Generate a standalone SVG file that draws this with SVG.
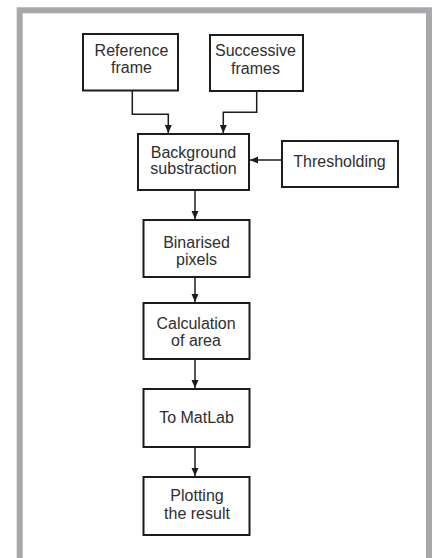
<svg xmlns="http://www.w3.org/2000/svg" width="433" height="558" viewBox="0 0 433 558">
  <defs>
    <style>
      .box { fill: #ffffff; stroke: #1c1c1c; stroke-width: 2; }
      .lbl { font-family: "Liberation Sans", Arial, sans-serif; font-size: 16px; fill: #2e2e2e; text-anchor: middle; }
      .con { fill: none; stroke: #1c1c1c; stroke-width: 1.5; }
    </style>
    <marker id="arr" markerUnits="userSpaceOnUse" markerWidth="8" markerHeight="8" viewBox="0 0 8 8" refX="8" refY="4" orient="auto">
      <path d="M0,0.5 L8,4 L0,7.5 Z" fill="#1c1c1c"/>
    </marker>
  </defs>
  <rect x="0" y="0" width="433" height="558" fill="#ffffff"/>
  <rect x="19.7" y="10.3" width="409.3" height="560" fill="none" stroke="#a7a8ab" stroke-width="6"/>

  <g id="connectors">
    <path class="con" d="M132.3,91 V114.3 H168.3 V133" marker-end="url(#arr)"/>
    <path class="con" d="M256.7,91 V112.3 H223.3 V133" marker-end="url(#arr)"/>
    <path class="con" d="M282,160 H250" marker-end="url(#arr)"/>
    <path class="con" d="M195,190 V219" marker-end="url(#arr)"/>
    <path class="con" d="M195,277 V302" marker-end="url(#arr)"/>
    <path class="con" d="M195,359 V388" marker-end="url(#arr)"/>
    <path class="con" d="M195,447 V476" marker-end="url(#arr)"/>
  </g>

  <g id="reference-frame">
    <rect class="box" x="83" y="34" width="95" height="56.5"/>
    <text class="lbl" x="131.5" y="56">Reference</text>
    <text class="lbl" x="131.5" y="73">frame</text>
  </g>
  <g id="successive-frames">
    <rect class="box" x="210" y="35" width="93" height="56"/>
    <text class="lbl" x="255.5" y="56">Successive</text>
    <text class="lbl" x="255.5" y="73.5">frames</text>
  </g>
  <g id="background-substraction">
    <rect class="box" x="138" y="134" width="111" height="56"/>
    <text class="lbl" x="193.5" y="157.5">Background</text>
    <text class="lbl" x="193.5" y="174">substraction</text>
  </g>
  <g id="thresholding">
    <rect class="box" x="282" y="141" width="116" height="46"/>
    <text class="lbl" x="339.5" y="167">Thresholding</text>
  </g>
  <g id="binarised-pixels">
    <rect class="box" x="143.5" y="220" width="106" height="57"/>
    <text class="lbl" x="196.5" y="247.5">Binarised</text>
    <text class="lbl" x="196.5" y="264.5">pixels</text>
  </g>
  <g id="calculation-of-area">
    <rect class="box" x="143.5" y="303" width="106" height="56"/>
    <text class="lbl" x="196" y="328.5">Calculation</text>
    <text class="lbl" x="196" y="345.5">of area</text>
  </g>
  <g id="to-matlab">
    <rect class="box" x="143.5" y="389" width="106" height="58"/>
    <text class="lbl" x="196.5" y="422.5">To MatLab</text>
  </g>
  <g id="plotting-the-result">
    <rect class="box" x="143.5" y="477" width="106" height="58"/>
    <text class="lbl" x="197" y="501">Plotting</text>
    <text class="lbl" x="197" y="518.5">the result</text>
  </g>
</svg>
